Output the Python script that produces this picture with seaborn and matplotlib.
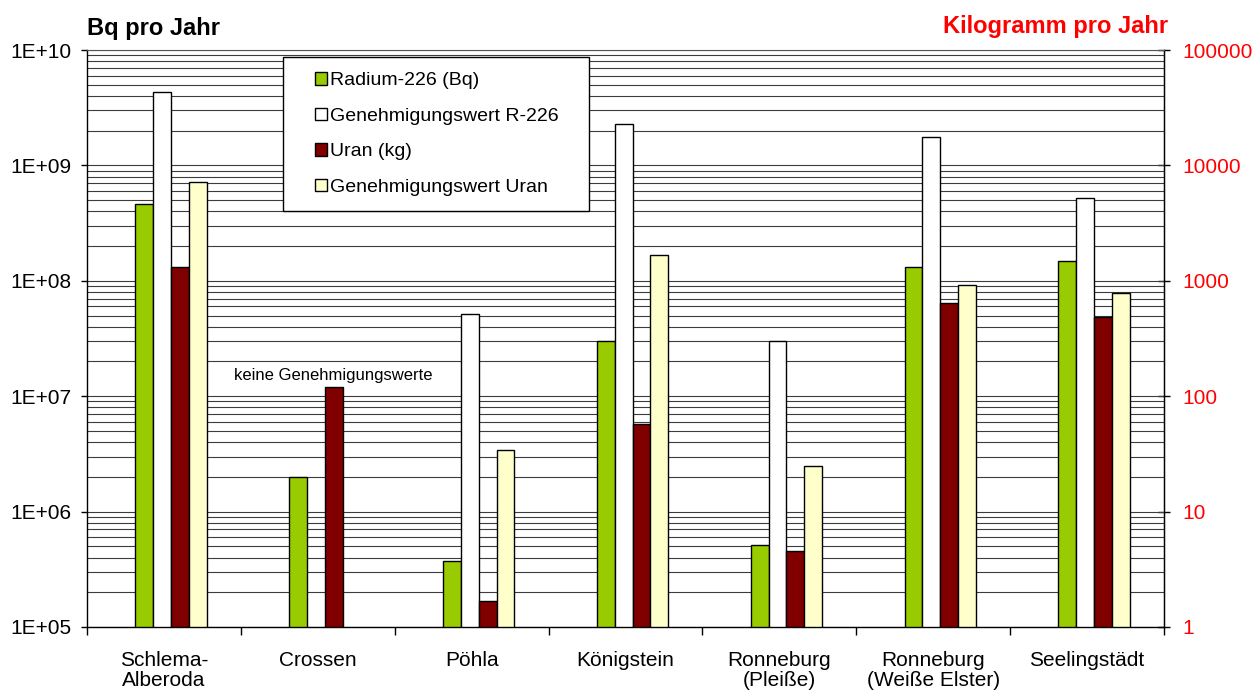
import numpy as np
import pandas as pd
import seaborn as sns
import matplotlib.pyplot as plt
from matplotlib.patches import Patch, Rectangle
from matplotlib.ticker import FixedLocator, FuncFormatter, NullFormatter

sites = ["Schlema-\nAlberoda", "Crossen", "Pöhla", "Königstein",
         "Ronneburg\n(Pleiße)", "Ronneburg\n(Weiße Elster)", "Seelingstädt"]
radium_bq = [4.6e8, 2.0e6, 3.7e5, 3.0e7, 5.1e5, 1.31e8, 1.49e8]
radium_limit_bq = [4.35e9, np.nan, 5.2e7, 2.27e9, 3.03e7, 1.77e9, 5.19e8]
uran_kg = [1310, 120, 1.67, 58, 4.56, 638, 485]
uran_limit_kg = [7180, np.nan, 34.2, 1683, 25, 925, 784]

series = ["Radium-226 (Bq)", "Genehmigungswert R-226", "Uran (kg)", "Genehmigungswert Uran"]
colors = ["#99CC00", "#FFFFFF", "#800000", "#FFFFCC"]

# right axis (1 .. 1e5 kg) sits on the left axis range (1e5 .. 1e10 Bq)
KG_TO_BQ_AXIS = 1e5

rows = []
for i, site in enumerate(sites):
    rows.append((site, series[0], radium_bq[i]))
    rows.append((site, series[1], radium_limit_bq[i]))
    rows.append((site, series[2], uran_kg[i] * KG_TO_BQ_AXIS))
    rows.append((site, series[3], uran_limit_kg[i] * KG_TO_BQ_AXIS))
df = pd.DataFrame(rows, columns=["site", "series", "value"])

sns.set_style("white")
plt.rcParams["font.family"] = ["Liberation Sans", "DejaVu Sans"]
plt.rcParams["text.color"] = "black"
plt.rcParams["xtick.color"] = "black"
plt.rcParams["ytick.color"] = "black"

fig = plt.figure(figsize=(12.53, 6.95), dpi=100)
ax = fig.add_axes([87 / 1253, 68 / 695, 1077 / 1253, 577 / 695])
ax.set_yscale("log")

sns.barplot(data=df, x="site", y="value", hue="series", order=sites,
            hue_order=series, palette=colors, saturation=1, width=0.465, gap=0,
            edgecolor="black", linewidth=1, legend=False, ax=ax)

# Excel draws the clusters a bit right of the category centre
for bar in ax.patches:
    bar.set_x(bar.get_x() + 0.046)

ax.set_xlim(-0.5, len(sites) - 0.5)
ax.set_ylim(1e5, 1e10)
ax.set_xlabel("")
ax.set_ylabel("")
ax.set_axisbelow(True)

# grid on every log step
ax.yaxis.set_major_locator(FixedLocator([10.0 ** k for k in range(5, 11)]))
ax.yaxis.set_minor_locator(FixedLocator([m * 10.0 ** k for k in range(5, 10) for m in range(2, 10)]))
ax.yaxis.set_minor_formatter(NullFormatter())
ax.yaxis.set_major_formatter(FuncFormatter(lambda v, p: f"1E+{int(round(np.log10(v))):02d}"))
ax.grid(True, axis="y", which="both", color="#3c3c3c", linewidth=0.8)
ax.grid(False, axis="x")

ax.tick_params(axis="y", which="major", direction="out", length=4.5, width=1, pad=7,
               labelsize=15, left=True, colors="black")
ax.tick_params(axis="y", which="minor", length=0)

ax.set_xticks(np.arange(-0.5, len(sites), 1), minor=True)
ax.tick_params(axis="x", which="major", length=0, pad=17, labelsize=15, colors="black")
ax.tick_params(axis="x", which="minor", direction="out", length=6, width=1, bottom=True)
for lab in ax.get_xticklabels():
    lab.set_linespacing(1.1)

for side in ["left", "right", "bottom"]:
    ax.spines[side].set_color("black")
    ax.spines[side].set_linewidth(1)
ax.spines["top"].set_color("#555555")
ax.spines["top"].set_linewidth(0.8)

sec = ax.secondary_yaxis("right", functions=(lambda y: y / KG_TO_BQ_AXIS,
                                             lambda y: y * KG_TO_BQ_AXIS))
sec.yaxis.set_major_locator(FixedLocator([1, 10, 100, 1000, 10000, 100000]))
sec.yaxis.set_minor_locator(FixedLocator([]))
sec.yaxis.set_major_formatter(FuncFormatter(lambda v, p: f"{v:.0f}"))
sec.tick_params(axis="y", direction="inout", length=9, width=1, pad=8.5,
                labelsize=15, labelcolor="#FF0000", color="black")
sec.spines["right"].set_color("black")

ax.text(1.1, 1.5e7, "keine Genehmigungswerte", ha="center", va="center", fontsize=12)

# legend box
ax.add_patch(Rectangle(((283 - 87) / 1077, (627 - 211) / 577), 306 / 1077, 154 / 577,
                       transform=ax.transAxes, facecolor="white", edgecolor="black",
                       linewidth=1, zorder=5))
handles = [Patch(facecolor=c, edgecolor="black", linewidth=1) for c in colors]
leg = ax.legend(handles, series, loc="center left",
                bbox_to_anchor=((315 - 87) / 1077, (627 - 134) / 577),
                frameon=False, fontsize=14, labelspacing=0.95, handlelength=0.6,
                handleheight=0.6, handletextpad=0.15, borderpad=0, borderaxespad=0)
leg.set_zorder(6)

fig.text(87 / 1253, 1 - 28 / 695, "Bq pro Jahr", fontsize=17, fontweight="bold",
         ha="left", va="center")
fig.text(1168 / 1253, 1 - 26 / 695, "Kilogramm pro Jahr", fontsize=17, fontweight="bold",
         color="#FF0000", ha="right", va="center")

fig.savefig("out.png", dpi=100)
